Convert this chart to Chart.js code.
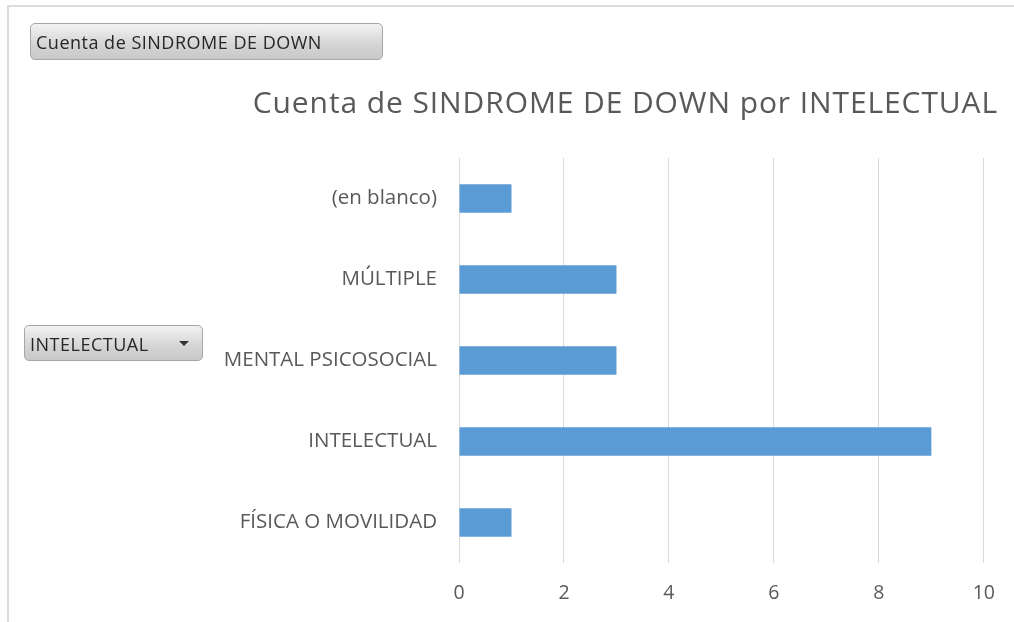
<!DOCTYPE html>
<html>
<head>
<meta charset="utf-8">
<script src="https://cdn.jsdelivr.net/npm/chart.js@4/dist/chart.umd.min.js"></script>
<style>
    body { margin: 0; background: #fff; font-family: "Open Sans", sans-serif; }
    #wrap { position: relative; width: 1014px; height: 622px; overflow: hidden; }
    #chart { position: absolute; left: 0; top: 0; }
    .frame {
        position: absolute; left: 7px; top: 5px; width: 1100px; height: 700px;
        border-left: 2px solid #dcdcdc; border-top: 2px solid #dcdcdc;
    }
    .field-btn {
        position: absolute; box-sizing: border-box;
        border: 1px solid #a6a6a6; border-radius: 5px;
        background: linear-gradient(#f2f2f2, #d4d4d4 60%, #c9c9c9);
        color: #262626; font-size: 18px; letter-spacing: 0.5px;
        line-height: 37px; padding-left: 5px; white-space: nowrap;
    }
    #btn-value { left: 30px; top: 23px; width: 353px; height: 37px; }
    #btn-axis { left: 24px; top: 325px; width: 179px; height: 36px; line-height: 36px; }
    #btn-axis .arrow {
        position: absolute; right: 13px; top: 15px; width: 0; height: 0;
        border-left: 5px solid transparent; border-right: 5px solid transparent;
        border-top: 5px solid #333;
    }
</style>
</head>
<body>
<div id="wrap">
    <canvas id="chart" width="1014" height="622"></canvas>
    <div class="frame"></div>
    <div class="field-btn" id="btn-value">Cuenta de SINDROME DE DOWN</div>
    <div class="field-btn" id="btn-axis">INTELECTUAL<span class="arrow"></span></div>
</div>
<script>
// datos del gráfico dinámico
const categories = ['(en blanco)', 'MÚLTIPLE', 'MENTAL PSICOSOCIAL', 'INTELECTUAL', 'FÍSICA O MOVILIDAD'];
const counts = [1, 3, 3, 9, 1];
const xTicks = [0, 2, 4, 6, 8, 10];
const chartTitle = 'Cuenta de SINDROME DE DOWN por INTELECTUAL';

const textGray = '#595959';
const fontFamily = '"Open Sans", sans-serif';

// título dibujado a mano, alineado a la derecha como en Excel
const titlePlugin = {
    id: 'excelTitle',
    afterDraw(chart) {
        const ctx = chart.ctx;
        ctx.save();
        ctx.font = '30px ' + fontFamily;
        ctx.letterSpacing = '0.9px';
        ctx.fillStyle = textGray;
        ctx.textAlign = 'right';
        ctx.textBaseline = 'middle';
        ctx.fillText(chartTitle, chart.width - 16, 104);
        ctx.restore();
    }
};

new Chart(document.getElementById('chart').getContext('2d'), {
    type: 'bar',
    data: {
        labels: categories,
        datasets: [{
            label: 'Total',
            data: counts,
            backgroundColor: '#5B9BD5',
            categoryPercentage: 1,
            barPercentage: 0.35
        }]
    },
    options: {
        indexAxis: 'y',
        responsive: false,
        animation: false,
        layout: { padding: { top: 158, right: 29, bottom: 16, left: 0 } },
        plugins: {
            legend: { display: false },
            tooltip: { enabled: false },
            title: { display: false }
        },
        scales: {
            x: {
                min: 0,
                max: 10,
                afterBuildTicks: s => { s.ticks = xTicks.map(v => ({ value: v })); },
                afterFit: s => { s.height = 43; },
                grid: { color: '#d9d9d9', drawTicks: false },
                border: { display: false },
                ticks: { color: textGray, padding: 19, font: { size: 19.5, family: fontFamily } }
            },
            y: {
                afterFit: s => { s.width = 459; },
                grid: { display: false },
                border: { display: false },
                ticks: { color: textGray, padding: 14, font: { size: 20.5, family: fontFamily } }
            }
        }
    },
    plugins: [titlePlugin]
});
</script>
</body>
</html>
